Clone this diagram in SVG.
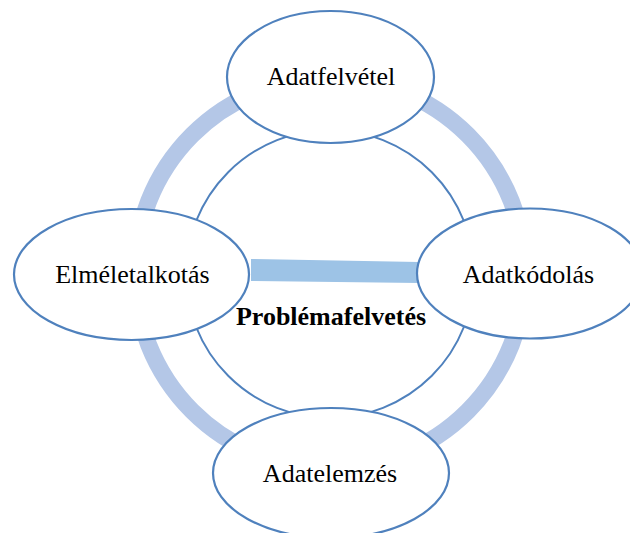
<svg xmlns="http://www.w3.org/2000/svg" width="630" height="533" viewBox="0 0 630 533">
  <style>
    .node { fill: #ffffff; stroke: #4F81BD; stroke-width: 2.2; }
    .core { fill: #ffffff; stroke: #4F81BD; stroke-width: 2; }
    .label { font-family: "Liberation Serif", "Times New Roman", serif; font-size: 26px; fill: #000000; text-anchor: middle; }
    .title { font-weight: bold; }
    .ring { fill: none; stroke: #B4C7E7; stroke-width: 17; }
    .bar { fill: #9DC3E6; }
  </style>

  <!-- central problem circle -->
  <g id="problemafelvetes">
    <circle class="core" cx="330" cy="274" r="144"/>
  </g>

  <!-- cycle ring and link between theory and coding -->
  <g id="connectors">
    <circle class="ring" cx="330" cy="273" r="195"/>
    <polygon class="bar" points="251,259 419,262 419,283 251,281"/>
  </g>

  <g id="adatfelvetel">
    <ellipse class="node" cx="330.5" cy="77" rx="103.5" ry="66"/>
    <text class="label" x="331" y="85">Adatfelvétel</text>
  </g>

  <g id="elmeletalkotas">
    <ellipse class="node" cx="131.5" cy="274.5" rx="117.5" ry="65.5"/>
    <text class="label" x="132.5" y="283">Elméletalkotás</text>
  </g>

  <g id="adatkodolas">
    <ellipse class="node" cx="530" cy="273.5" rx="113" ry="65"/>
    <text class="label" x="528.5" y="283">Adatkódolás</text>
  </g>

  <g id="adatelemzes">
    <ellipse class="node" cx="331" cy="473" rx="118" ry="65"/>
    <text class="label" x="330" y="482">Adatelemzés</text>
  </g>

  <g id="problemafelvetes-label">
    <text class="label title" x="331" y="325">Problémafelvetés</text>
  </g>
</svg>
